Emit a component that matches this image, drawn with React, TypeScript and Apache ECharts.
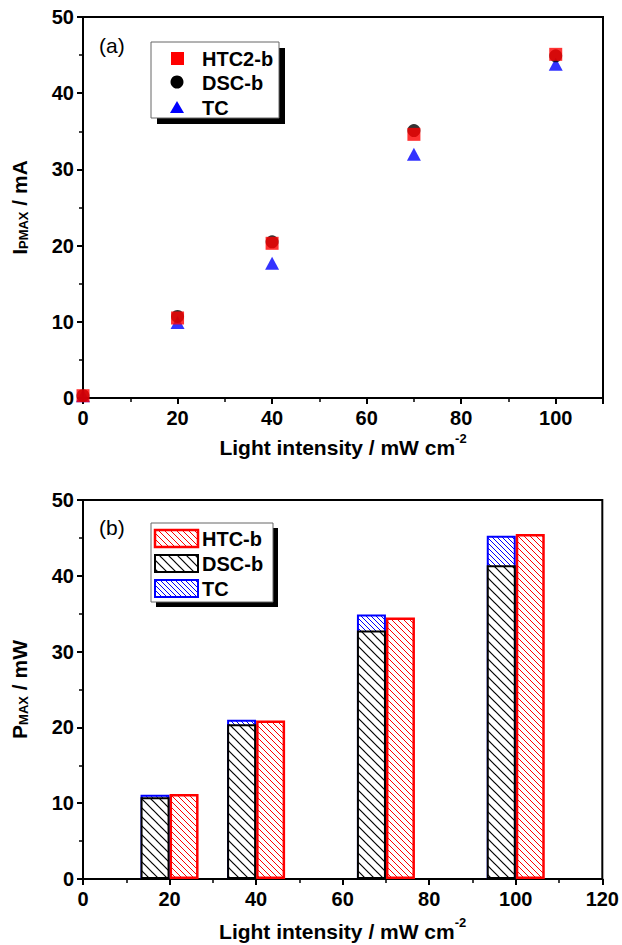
import React, { useEffect, useRef } from 'react';
import * as echarts from 'echarts';

// ---------- data ----------
const intensity = [0, 20, 40, 70, 100];
const htc2Current = [0.3, 10.5, 20.3, 34.6, 45.1];
const dscCurrent = [0.3, 10.7, 20.5, 35.1, 44.9];
const tcCurrent = [0.3, 9.9, 17.7, 32.0, 43.8];

const barIntensity = [20, 40, 70, 100];
const htcPower = [11.2, 20.9, 34.5, 45.5];
const dscPower = [10.8, 20.4, 32.8, 41.4];
const tcPower = [11.1, 21.0, 34.9, 45.3];

const topLegend = ['HTC2-b', 'DSC-b', 'TC'];
const bottomLegend = ['HTC-b', 'DSC-b', 'TC'];

const F = "'Liberation Sans', Arial, Helvetica, sans-serif";

function hatch(color: string, s: number, lw: number) {
  const c = document.createElement('canvas');
  c.width = s;
  c.height = s;
  const ctx = c.getContext('2d')!;
  ctx.fillStyle = '#ffffff';
  ctx.fillRect(0, 0, s, s);
  ctx.strokeStyle = color;
  ctx.lineWidth = lw;
  for (const x0 of [-s, 0, s]) {
    ctx.beginPath();
    ctx.moveTo(x0 - 1, -1);
    ctx.lineTo(x0 + s + 1, s + 1);
    ctx.stroke();
  }
  return { image: c, repeat: 'repeat' } as any;
}

const xName = '{a|Light intensity / mW cm}{s|-2}';
const nameRich = {
  a: { fontSize: 21, fontWeight: 'bold', fontFamily: F, color: '#000', lineHeight: 26, verticalAlign: 'bottom' },
  s: { fontSize: 13, fontWeight: 'bold', fontFamily: F, color: '#000', verticalAlign: 'top', lineHeight: 13 },
  b: { fontSize: 13, fontWeight: 'bold', fontFamily: F, color: '#000', verticalAlign: 'bottom', lineHeight: 13 },
};

function xAxisOf(gridIndex: number, max: number, gap: number) {
  return {
    type: 'value',
    gridIndex,
    min: 0,
    max,
    interval: 20,
    axisLine: { show: true, onZero: false, lineStyle: { color: '#000', width: 2 } },
    axisTick: { show: true, length: 6, lineStyle: { color: '#000', width: 2 } },
    minorTick: { show: true, splitNumber: 2, length: 4, lineStyle: { color: '#000', width: 1.5 } },
    splitLine: { show: false },
    minorSplitLine: { show: false },
    axisLabel: { color: '#000', fontSize: 20, fontWeight: 'bold', fontFamily: F, margin: 10, showMaxLabel: max === 120 },
    name: xName,
    nameLocation: 'middle',
    nameGap: gap,
    nameTextStyle: { rich: nameRich },
  };
}

function yAxisOf(gridIndex: number, name: string) {
  return {
    type: 'value',
    gridIndex,
    min: 0,
    max: 50,
    interval: 10,
    axisLine: { show: true, onZero: false, lineStyle: { color: '#000', width: 2 } },
    axisTick: { show: true, length: 6, lineStyle: { color: '#000', width: 2 } },
    minorTick: { show: true, splitNumber: 2, length: 4, lineStyle: { color: '#000', width: 1.5 } },
    splitLine: { show: false },
    minorSplitLine: { show: false },
    axisLabel: { color: '#000', fontSize: 20, fontWeight: 'bold', fontFamily: F, margin: 9 },
    name,
    nameLocation: 'middle',
    nameGap: 53,
    nameTextStyle: { rich: nameRich },
  };
}

export default function App() {
  const ref = useRef<HTMLDivElement>(null);
  useEffect(() => {
    if (!ref.current) return;
    const chart = echarts.init(ref.current, undefined, { renderer: 'svg' });
    const htcPat = hatch('#ff0000', 6, 1);
    const dscPat = hatch('#000000', 9, 1.2);
    const tcPat = hatch('#0000ff', 5, 1);

    const legendText = (x: number, y: number, t: string) => ({
      type: 'text',
      x,
      y,
      z: 12,
      style: { text: t, fontSize: 20, fontWeight: 'bold', fontFamily: F, fill: '#000', verticalAlign: 'middle', align: 'left' },
    });

    // hidden twin x axis of the bottom panel, used so the DSC-b column overlays the TC column
    const twinAxis = { ...xAxisOf(1, 120, 36), show: false, name: '' };

    chart.setOption({
      animation: false,
      backgroundColor: '#fff',
      grid: [
        { left: 83, right: 19, top: 17, height: 381, show: true, borderColor: '#000', borderWidth: 2, backgroundColor: 'transparent' },
        { left: 83, right: 17, top: 500, height: 379, show: true, borderColor: '#000', borderWidth: 2, backgroundColor: 'transparent' },
      ],
      xAxis: [xAxisOf(0, 110, 34), xAxisOf(1, 120, 37), twinAxis],
      yAxis: [yAxisOf(0, '{a|I}{b|PMAX}{a| / mA}'), yAxisOf(1, '{a|P}{b|MAX}{a| / mW}')],
      series: [
        {
          type: 'scatter', name: 'TC', xAxisIndex: 0, yAxisIndex: 0,
          symbol: 'triangle', symbolSize: [14, 13],
          itemStyle: { color: '#0000ff' },
          data: intensity.map((x, i) => [x, tcCurrent[i]]),
        },
        {
          type: 'scatter', name: 'DSC-b', xAxisIndex: 0, yAxisIndex: 0,
          symbol: 'circle', symbolSize: 13,
          itemStyle: { color: '#000000' },
          data: intensity.map((x, i) => [x, dscCurrent[i]]),
        },
        {
          type: 'scatter', name: 'HTC2-b', xAxisIndex: 0, yAxisIndex: 0,
          symbol: 'rect', symbolSize: 13,
          itemStyle: { color: '#ff0000' },
          data: intensity.map((x, i) => [x, htc2Current[i]]),
        },
        {
          type: 'bar', name: 'TC', xAxisIndex: 1, yAxisIndex: 1,
          barWidth: 29, barGap: '0%',
          itemStyle: { color: tcPat, borderColor: '#0000ff', borderWidth: 2 },
          data: barIntensity.map((x, i) => [x, tcPower[i]]),
        },
        {
          type: 'bar', name: 'HTC-b', xAxisIndex: 1, yAxisIndex: 1,
          barWidth: 29, barGap: '0%',
          itemStyle: { color: htcPat, borderColor: '#ff0000', borderWidth: 2.5 },
          data: barIntensity.map((x, i) => [x, htcPower[i]]),
        },
        {
          type: 'bar', name: 'DSC-b', xAxisIndex: 2, yAxisIndex: 1,
          barWidth: 29, barGap: '0%',
          itemStyle: { color: dscPat, borderColor: '#000', borderWidth: 2 },
          data: barIntensity.map((x, i) => [x, dscPower[i]]),
        },
        {
          type: 'bar', name: 'spacer', xAxisIndex: 2, yAxisIndex: 1,
          barWidth: 29, barGap: '0%', silent: true,
          itemStyle: { color: 'transparent', borderWidth: 0 },
          data: [],
        },
      ],
      graphic: [
        { type: 'text', x: 99, y: 45, style: { text: '(a)', fontSize: 21, fontFamily: F, fill: '#000', verticalAlign: 'middle' } },
        { type: 'text', x: 99, y: 527, style: { text: '(b)', fontSize: 21, fontFamily: F, fill: '#000', verticalAlign: 'middle' } },
        // top legend
        { type: 'rect', shape: { x: 157, y: 48, width: 128, height: 76 }, style: { fill: '#000' }, z: 10 },
        { type: 'rect', shape: { x: 151, y: 42, width: 128, height: 76 }, style: { fill: '#fff', stroke: '#666', lineWidth: 1 }, z: 11 },
        { type: 'rect', shape: { x: 171, y: 52, width: 13, height: 13 }, style: { fill: '#ff0000' }, z: 12 },
        { type: 'circle', shape: { cx: 177, cy: 82, r: 6.5 }, style: { fill: '#000' }, z: 12 },
        { type: 'polygon', shape: { points: [[170, 113], [184, 113], [177, 101]] }, style: { fill: '#0000ff' }, z: 12 },
        legendText(202, 59, topLegend[0]),
        legendText(202, 83, topLegend[1]),
        legendText(202, 108, topLegend[2]),
        // bottom legend
        { type: 'rect', shape: { x: 156, y: 528, width: 122, height: 79 }, style: { fill: '#000' }, z: 10 },
        { type: 'rect', shape: { x: 151, y: 523, width: 122, height: 79 }, style: { fill: '#fff', stroke: '#666', lineWidth: 1 }, z: 11 },
        { type: 'rect', shape: { x: 155, y: 530, width: 43, height: 17 }, style: { fill: htcPat, stroke: '#ff0000', lineWidth: 2.5 }, z: 12 },
        { type: 'rect', shape: { x: 155, y: 555, width: 43, height: 17 }, style: { fill: dscPat, stroke: '#000', lineWidth: 2 }, z: 12 },
        { type: 'rect', shape: { x: 155, y: 580, width: 43, height: 17 }, style: { fill: tcPat, stroke: '#0000ff', lineWidth: 2 }, z: 12 },
        legendText(202, 539, bottomLegend[0]),
        legendText(202, 564, bottomLegend[1]),
        legendText(202, 589, bottomLegend[2]),
      ],
    });
    return () => chart.dispose();
  }, []);
  return <div ref={ref} style={{ position: 'absolute', left: 0, top: 0, width: 622, height: 945 }} />;
}
